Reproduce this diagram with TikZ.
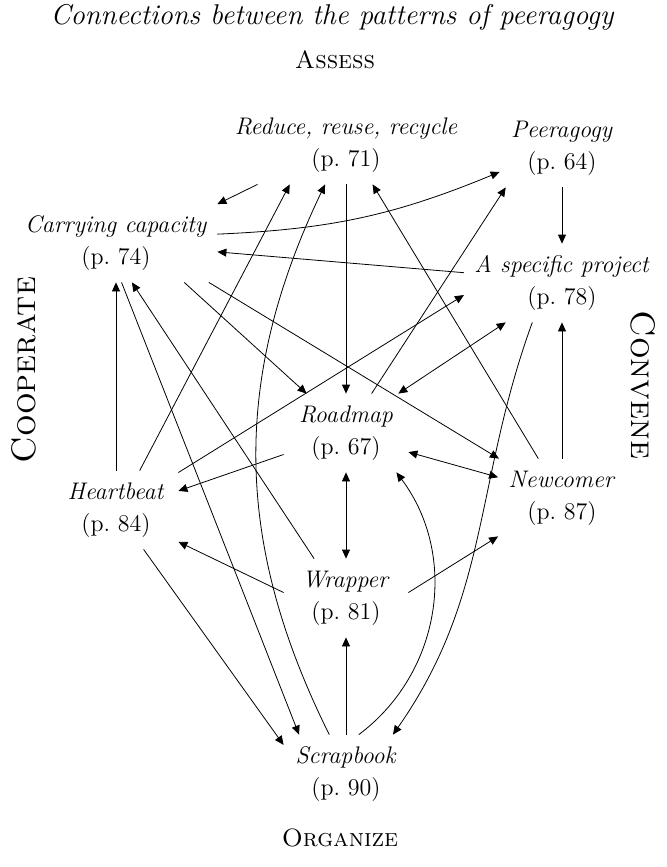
\documentclass[tikz,border=0pt]{standalone}
\usepackage{tikz}
\usetikzlibrary{arrows.meta}
\newcommand{\patref}[2]{\textit{#1}\\(p.~#2)}

\begin{document}
\begin{tikzpicture}[x=0.5pt,y=0.5pt,
    patbox/.style={align=center,font=\fontsize{12}{16}\selectfont,
      minimum width=62pt,minimum height=39pt,inner xsep=5pt},
    sidelbl/.style={font=\fontsize{17}{20}\selectfont\scshape,anchor=base},
    toplbl/.style={font=\fontsize{12.5}{16}\selectfont\scshape,anchor=base},
    >={Triangle[length=4.5pt,width=4pt]}]
    \useasboundingbox (0,0) rectangle (667,-867);
    \node[anchor=base,font=\fontsize{14.3}{18}\selectfont\itshape] (title) at (332,-25)
      {Connections between the patterns of peeragogy};
    \node[toplbl] (assess) at (335,-68) {Assess};
    \node[toplbl] (organize) at (340,-846) {Organize};
    \node[sidelbl,rotate=90] (cooperate) at (35,-370) {Cooperate};
    \node[sidelbl,rotate=-90] (convene) at (631,-385) {Convene};

    \node[patbox] (reduce) at (346,-145) {\patref{Reduce, reuse, recycle}{71}};
    \node[patbox] (peer) at (562,-148) {\patref{Peeragogy}{64}};
    \node[patbox] (carry) at (116,-243) {\patref{Carrying capacity}{74}};
    \node[patbox] (spec) at (562,-283) {\patref{A specific project}{78}};
    \node[patbox] (road) at (346,-433) {\patref{Roadmap}{67}};
    \node[patbox] (heart) at (116,-510) {\patref{Heartbeat}{84}};
    \node[patbox] (newc) at (562,-498) {\patref{Newcomer}{87}};
    \node[patbox] (wrap) at (346,-598) {\patref{Wrapper}{81}};
    \node[patbox] (scrap) at (346,-774) {\patref{Scrapbook}{90}};

    \draw[->] (reduce.204) -- (carry.21);
    \draw[->] (carry.5) to[bend right=10] (peer.201);
    \draw[->] (peer.south) -- (spec.north);
    \draw[->] (spec.174) -- (carry.-5);
    \draw[->] (heart.north) -- (carry.south);
    \draw[->] (heart.59) -- (reduce.215);
    \draw[->] (scrap.113) to[bend left=26] (reduce.242);
    \draw[->] (newc.121) -- (reduce.304);
    \draw[->] (reduce.south) -- (road.north);
    \draw[->] (road.57) -- (peer.215);
    \draw[->] (heart.31) -- (spec.187);
    \draw[<->] (road.37) -- (spec.215);
    \draw[->] (carry.-30) -- (road.135);
    \draw[->] (carry.-23.5) -- (newc.148);
    \draw[->] (carry.-82) -- (scrap.140);
    \draw[->] (wrap.129) -- (carry.-68);
    \draw[->] (heart.-55) -- (scrap.155);
    \draw[->] (wrap.175) -- (heart.-27);
    \draw[->] (wrap.5) -- (newc.211);
    \draw[->] (road.199) -- (heart.17);
    \draw[<->] (road.-17) -- (newc.162);
    \draw[<->] (road.south) -- (wrap.north);
    \draw[->] (scrap.north) -- (wrap.south);
    \draw[->] (scrap.72) to[bend right=45] (road.-38);
    \draw[->] (spec.233) to[out=250,in=55] (scrap.40);
    \draw[->] (newc.north) -- (spec.south);
\end{tikzpicture}
\end{document}
